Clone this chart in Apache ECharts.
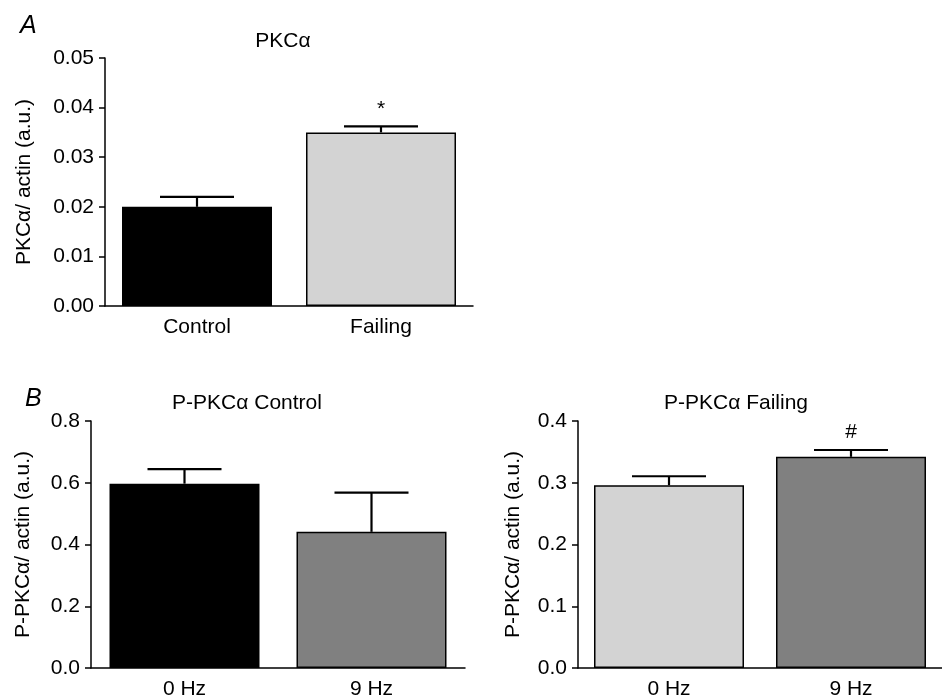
<!DOCTYPE html>
<html>
<head>
<meta charset="utf-8">
<script src="https://cdn.jsdelivr.net/npm/echarts@6/dist/echarts.min.js"></script>
<style>
  html, body { margin: 0; padding: 0; background: #fff; }
  #chart { width: 942px; height: 700px; }
</style>
</head>
<body>
<div id="chart"></div>
<script>
// panel A: total PKCa
var catA = ['Control', 'Failing']
var meanA = [0.020, 0.035]
var semA = [0.0020, 0.0012]
var sigA = ['', '*']
var colorsA = ['#000000', '#d3d3d3']

// panel B: phospho PKCa, control and failing
var catB = ['0 Hz', '9 Hz']
var meanCtrl = [0.597, 0.441]
var semCtrl = [0.047, 0.127]
var sigCtrl = ['', '']
var colorsCtrl = ['#000000', '#808080']

var meanFail = [0.296, 0.342]
var semFail = [0.0145, 0.011]
var sigFail = ['', '#']
var colorsFail = ['#d3d3d3', '#808080']

var font = 'Liberation Sans, Arial, Helvetica, sans-serif'

var chart = echarts.init(document.getElementById('chart'))

function yAxis(idx, max, interval, digits, name, gap) {
  return {
    gridIndex: idx,
    type: 'value',
    min: 0,
    max: max,
    interval: interval,
    name: name,
    nameLocation: 'middle',
    nameGap: gap,
    nameTextStyle: { color: '#000', fontSize: 21, fontFamily: font },
    axisLine: { show: true, lineStyle: { color: '#000', width: 1.5 } },
    axisTick: { show: true, length: 6, lineStyle: { color: '#000', width: 1.5 } },
    axisLabel: {
      color: '#000', fontSize: 21, fontFamily: font, margin: 11,
      formatter: function (v) { return v.toFixed(digits) }
    },
    splitLine: { show: false }
  }
}

function xAxis(idx, cats) {
  return {
    gridIndex: idx,
    type: 'category',
    data: cats,
    axisLine: { lineStyle: { color: '#000', width: 1.5 } },
    axisTick: { show: false },
    axisLabel: { color: '#000', fontSize: 21, fontFamily: font, margin: 11 }
  }
}

function bars(idx, means, colors) {
  return {
    type: 'bar',
    xAxisIndex: idx,
    yAxisIndex: idx,
    barWidth: 150,
    silent: true,
    data: means.map(function (v, i) {
      return { value: v, itemStyle: { color: colors[i] } }
    }),
    itemStyle: { borderColor: '#000', borderWidth: 1.5 }
  }
}

function errors(idx, means, sems, marks) {
  return {
    type: 'custom',
    xAxisIndex: idx,
    yAxisIndex: idx,
    silent: true,
    z: 5,
    data: means.map(function (v, i) { return [i, v, v + sems[i]] }),
    renderItem: function (params, api) {
      var base = api.coord([api.value(0), api.value(1)])
      var top = api.coord([api.value(0), api.value(2)])
      var half = 37
      var style = { stroke: '#000', lineWidth: 2.2 }
      var children = [
        { type: 'line', shape: { x1: base[0], y1: base[1], x2: top[0], y2: top[1] }, style: style },
        { type: 'line', shape: { x1: top[0] - half, y1: top[1], x2: top[0] + half, y2: top[1] }, style: style }
      ]
      var mark = marks[params.dataIndex]
      if (mark) {
        children.push({
          type: 'text',
          x: top[0],
          y: top[1] - 7,
          style: {
            text: mark, fill: '#000', fontSize: 21, fontFamily: font,
            textAlign: 'center', textVerticalAlign: 'bottom'
          }
        })
      }
      return { type: 'group', children: children }
    }
  }
}

chart.setOption({
  animation: false,
  backgroundColor: '#fff',
  title: [
    { text: 'A', left: 15, top: 9, textStyle: { fontSize: 25, fontStyle: 'italic', fontWeight: 'normal', fontFamily: font, color: '#000' } },
    { text: 'PKCα', left: 278, top: 26, textAlign: 'center', textStyle: { fontSize: 21, fontWeight: 'normal', fontFamily: font, color: '#000' } },
    { text: 'B', left: 20, top: 382, textStyle: { fontSize: 25, fontStyle: 'italic', fontWeight: 'normal', fontFamily: font, color: '#000' } },
    { text: 'P-PKCα Control', left: 242, top: 388, textAlign: 'center', textStyle: { fontSize: 21, fontWeight: 'normal', fontFamily: font, color: '#000' } },
    { text: 'P-PKCα Failing', left: 731, top: 388, textAlign: 'center', textStyle: { fontSize: 21, fontWeight: 'normal', fontFamily: font, color: '#000' } }
  ],
  grid: [
    { left: 105, top: 58, width: 368, height: 248 },
    { left: 91, top: 421, width: 374, height: 247 },
    { left: 578, top: 421, width: 364, height: 247 }
  ],
  xAxis: [xAxis(0, catA), xAxis(1, catB), xAxis(2, catB)],
  yAxis: [
    yAxis(0, 0.05, 0.01, 2, 'PKCα/ actin (a.u.)', 70),
    yAxis(1, 0.8, 0.2, 1, 'P-PKCα/ actin (a.u.)', 57),
    yAxis(2, 0.4, 0.1, 1, 'P-PKCα/ actin (a.u.)', 54)
  ],
  series: [
    bars(0, meanA, colorsA),
    errors(0, meanA, semA, sigA),
    bars(1, meanCtrl, colorsCtrl),
    errors(1, meanCtrl, semCtrl, sigCtrl),
    bars(2, meanFail, colorsFail),
    errors(2, meanFail, semFail, sigFail)
  ]
})
</script>
</body>
</html>
